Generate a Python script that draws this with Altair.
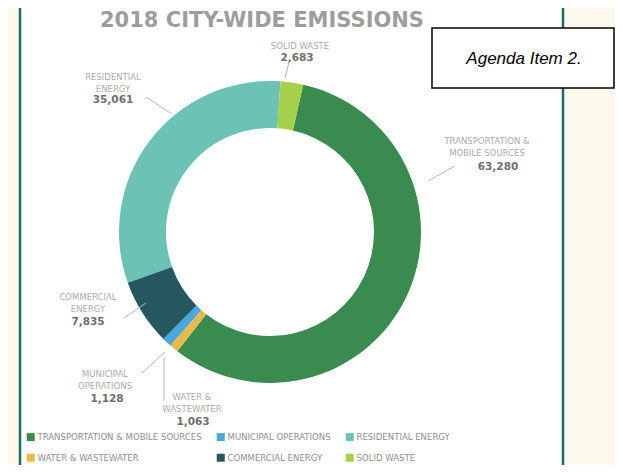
import altair as alt
import pandas as pd
import math

# ---- data ----
categories = ["TRANSPORTATION & MOBILE SOURCES", "MUNICIPAL OPERATIONS", "RESIDENTIAL ENERGY",
              "WATER & WASTEWATER", "COMMERCIAL ENERGY", "SOLID WASTE"]
values = [63280, 1128, 35061, 1063, 7835, 2683]
ring_order = [1, 3, 5, 2, 4, 0]          # clockwise order from the top
colors = ["#3a8b4f", "#4aa8e0", "#6cc3b5", "#e9b949", "#25585e", "#a6cf4a"]
label_names = ["TRANSPORTATION &\nMOBILE SOURCES", "MUNICIPAL\nOPERATIONS", "RESIDENTIAL\nENERGY",
               "WATER &\nWASTEWATER", "COMMERCIAL\nENERGY", "SOLID WASTE"]
title_text = "2018 CITY-WIDE EMISSIONS"
agenda_text = "Agenda Item 2."

df = pd.DataFrame({"category": categories, "value": values, "ring": ring_order,
                   "name": label_names})

O = 8  # page margin
def P(v):
    return v - O

CX, CY = 270, 232
ROT = math.radians(4)
GREY_LABEL = "#ababab"
GREY_NUM = "#6e6e6e"
LFONT = "DejaVu Sans Condensed"

one = pd.DataFrame({"a": [0]})

panel = alt.Chart(one).mark_rect(fill="white", stroke="#17705f", strokeWidth=2.5).encode(
    x=alt.value(P(20)), x2=alt.value(P(563)), y=alt.value(P(5)), y2=alt.value(P(490)))

title = alt.Chart(one).mark_text(text=title_text, font="DejaVu Sans", fontWeight="bold",
                                 fontSize=21, color="#9d9d9d", align="center",
                                 baseline="middle").encode(
    x=alt.value(P(262)), y=alt.value(P(21)))

donut = alt.Chart(df).mark_arc(innerRadius=104, outerRadius=151).encode(
    theta=alt.Theta("value:Q", stack=True,
                    scale=alt.Scale(range=[ROT, ROT + 2 * math.pi])),
    order=alt.Order("ring:Q"),
    color=alt.Color("category:N",
                    scale=alt.Scale(domain=categories, range=colors),
                    legend=alt.Legend(orient="none", legendX=P(26), legendY=P(432),
                                      columns=3, direction="horizontal", title=None,
                                      symbolType="square", symbolSize=64,
                                      symbolStrokeWidth=0, symbolOpacity=1,
                                      labelFont=LFONT, labelFontSize=9.5,
                                      labelColor="#8f8f8f", labelLimit=400,
                                      columnPadding=14, rowPadding=10, labelOffset=2)),
    x=alt.value(P(CX)), y=alt.value(P(CY)))

def name_label(cat, x, y, align="center"):
    d = df[df.category == cat]
    return alt.Chart(d).mark_text(font="DejaVu Sans", fontSize=8.5, color=GREY_LABEL, align=align,
                                  baseline="middle", lineBreak="\n", lineHeight=12).encode(
        text="name:N", x=alt.value(P(x)), y=alt.value(P(y)))

def num_label(cat, x, y, align="center"):
    d = df[df.category == cat]
    return alt.Chart(d).mark_text(font="DejaVu Sans", fontWeight="bold", fontSize=10.5,
                                  color=GREY_NUM, align=align, baseline="middle").encode(
        text=alt.Text("value:Q", format=","), x=alt.value(P(x)), y=alt.value(P(y)))

def leader(x1, y1, x2, y2, color="#b5b5b5"):
    return alt.Chart(one).mark_rule(stroke=color, strokeWidth=1).encode(
        x=alt.value(P(x1)), y=alt.value(P(y1)), x2=alt.value(P(x2)), y2=alt.value(P(y2)))

labels = [
    name_label("SOLID WASTE", 300, 46), num_label("SOLID WASTE", 297, 58),
    leader(289, 62, 285, 78, "#b9a8d8"),
    name_label("RESIDENTIAL ENERGY", 113, 77), num_label("RESIDENTIAL ENERGY", 113, 100),
    leader(146, 97, 172, 114),
    name_label("TRANSPORTATION & MOBILE SOURCES", 487, 141),
    num_label("TRANSPORTATION & MOBILE SOURCES", 498, 167),
    leader(428, 181, 455, 166),
    name_label("COMMERCIAL ENERGY", 88, 297), num_label("COMMERCIAL ENERGY", 88, 322),
    leader(124, 318, 146, 303),
    name_label("MUNICIPAL OPERATIONS", 105, 374), num_label("MUNICIPAL OPERATIONS", 107, 399),
    leader(142, 373, 165, 352),
    name_label("WATER & WASTEWATER", 192, 397), num_label("WATER & WASTEWATER", 193, 422),
    leader(164, 357, 164, 401),
]

box = alt.Chart(one).mark_rect(fill="white", stroke="black", strokeWidth=1.5).encode(
    x=alt.value(P(432)), x2=alt.value(P(614)), y=alt.value(P(28)), y2=alt.value(P(88)))
agenda = alt.Chart(one).mark_text(text=agenda_text, font="Liberation Sans", fontStyle="italic",
                                  fontSize=17, color="black", align="center",
                                  baseline="middle").encode(
    x=alt.value(P(524)), y=alt.value(P(59)))

chart = alt.layer(panel, title, donut, *labels, box, agenda).properties(
    width=607, height=457, autosize="none", padding=0, background="#fdf8ec"
).configure_view(stroke=None)

chart.save("out.html", embed_options={"renderer": "svg", "actions": False})
